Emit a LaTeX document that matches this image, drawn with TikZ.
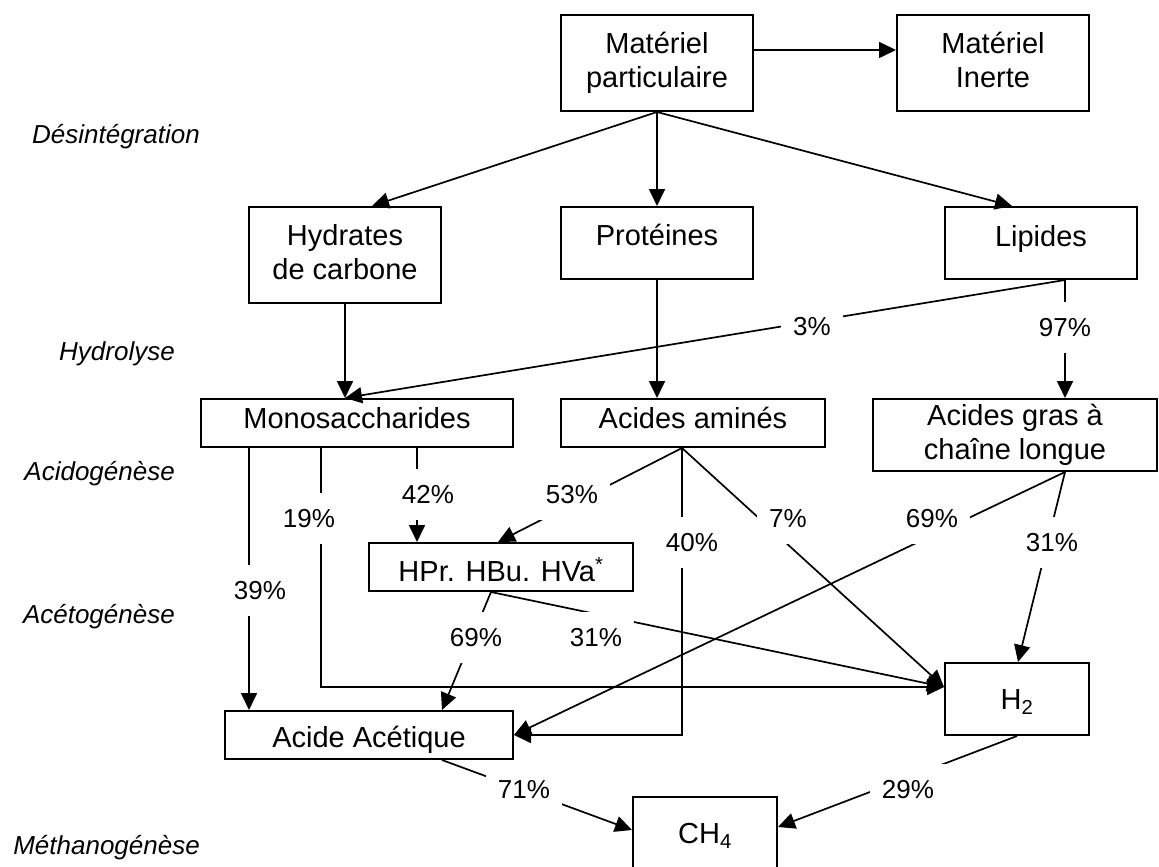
\documentclass[tikz,border=0pt]{standalone}
\usepackage{fontspec}
\setmainfont{Liberation Sans}
\usetikzlibrary{arrows.meta,calc}
\begin{document}
\begin{tikzpicture}[x=1pt,y=-1pt,
  box/.style={draw, line width=2pt, inner sep=0pt, font=\fontsize{29}{34}\selectfont},
  link/.style={line width=1.7pt, -{Triangle[length=17pt,width=16pt]}},
  pct/.style={fill=white, inner xsep=12pt, inner ysep=16pt, text height=19pt, text depth=0pt,
              font=\fontsize{26}{30}\selectfont},
  phase/.style={anchor=base east, inner sep=0pt, font=\fontsize{26}{30}\selectfont\itshape}]

\fill[white] (0,0) rectangle (1159,867);
\useasboundingbox (0,0) rectangle (1159,867);

% process stages
\node[phase] (des) at (200,143) {Désintégration};
\node[phase] (hyd) at (175,360) {Hydrolyse};
\node[phase] (acd) at (175,480) {Acidogénèse};
\node[phase] (act) at (175,623) {Acétogénèse};
\node[phase] (met) at (200,854) {Méthanogénèse};

% compartments
\node[box, minimum width=192pt, minimum height=96pt, align=center] (mp) at (657,63) {Matériel\\particulaire};
\node[box, minimum width=192pt, minimum height=96pt, align=center] (mi) at (993,63) {Matériel\\Inerte\rule[-6pt]{0pt}{6pt}};
\node[box, minimum width=192pt, minimum height=96pt, align=center] (hc) at (345,255) {Hydrates\\de carbone\rule[-6pt]{0pt}{6pt}};
\node[box, minimum width=192pt, text height=38pt, text depth=34pt] (prot) at (657,243) {Protéines};
\node[box, minimum width=192pt, text height=39pt, text depth=33pt] (lip) at (1041,243) {Lipides};
\node[box, minimum width=312pt, text height=29pt, text depth=19pt] (mono) at (357,423) {Monosaccharides};
\node[box, minimum width=264pt, text height=29pt, text depth=19pt] (aa) at (693,423) {Acides aminés};
\node[box, minimum width=284pt, minimum height=72pt, align=center] (ag) at (1015,435) {Acides gras à\\chaîne longue};
\node[box, minimum width=264pt, text height=38pt, text depth=10pt] (hpr) at (501,567) {HPr. HBu. HVa\textsuperscript{*}};
\node[box, minimum width=288pt, text height=36pt, text depth=12pt] (acac) at (369,735) {Acide Acétique};
\node[box, minimum width=144pt, text height=46pt, text depth=26pt] (h2) at (1017,699) {H\textsubscript{2}};
\node[box, minimum width=144pt, text height=46pt, text depth=34pt] (ch4) at (705,837) {CH\textsubscript{4}};

% branching points
\coordinate (lipout) at ($(lip.south)+(24,0)$);
\coordinate (monoin) at ($(mono.north)+(-12,0)$);
\coordinate (aaout) at ($(aa.south)+(-11,0)$);
\coordinate (agout) at ($(ag.south)+(50,0)$);
\coordinate (hprout) at ($(hpr.south)+(-10,0)$);
\coordinate (h2in) at ($(h2.west)+(0,-12)$);

% disintegration
\draw[link] (mp.south) -- ($(hc.north)+(27,0)$);
\draw[link] (mp.south) -- (prot.north);
\draw[link] (mp.south) -- ($(lip.north)+(-29,0)$);
\draw[link] ($(mp.east)+(0,-13)$) -- ($(mi.west)+(0,-13)$);

% hydrolysis
\draw[link] (hc.south) -- (monoin);
\draw[link] (prot.south) -- ($(aa.north)+(-36,0)$);
\draw[link] (lipout) -- (monoin);
\draw[link] (lipout) -- ($(ag.north)+(50,0)$);

% acidogenesis
\draw[link] ($(mono.south)+(-108,0)$) -- ($(acac.north)+(-120,0)$);
\draw[link] ($(mono.south)+(-36,0)$) |- (h2in);
\draw[link] ($(mono.south)+(60,0)$) -- ($(hpr.north)+(-84,0)$);
\draw[link] (aaout) -- ($(hpr.north)+(-3,0)$);
\draw[link] (aaout) |- (acac.east);
\draw[link] (aaout) -- (h2in);

% acetogenesis
\draw[link] (agout) -- (acac.east);
\draw[link] (agout) -- ($(h2.north)+(1,0)$);
\draw[link] (hprout) -- ($(acac.north)+(73,0)$);
\draw[link] (hprout) -- (h2in);

% methanogenesis
\draw[link] ($(acac.south)+(73,0)$) -- ($(ch4.west)+(0,-7)$);
\draw[link] (h2.south) -- ($(ch4.east)+(0,-10)$);

% yields
\node[pct] (p3)  at (812,326) {3\%};
\node[pct] (p97) at (1065,327) {97\%};
\node[pct] (p42) at (428,494) {42\%};
\node[pct] (p19) at (309,518) {19\%};
\node[pct] (p53) at (572,494) {53\%};
\node[pct] (p40) at (692,542) {40\%};
\node[pct] (p7)  at (788,518) {7\%};
\node[pct] (p69a) at (932,518) {69\%};
\node[pct] (p31a) at (1052,542) {31\%};
\node[pct] (p39) at (260,590) {39\%};
\node[pct] (p69b) at (476,637) {69\%};
\node[pct] (p31b) at (596,637) {31\%};
\node[pct] (p71) at (524,789) {71\%};
\node[pct] (p29) at (908,789) {29\%};

\end{tikzpicture}
\end{document}
